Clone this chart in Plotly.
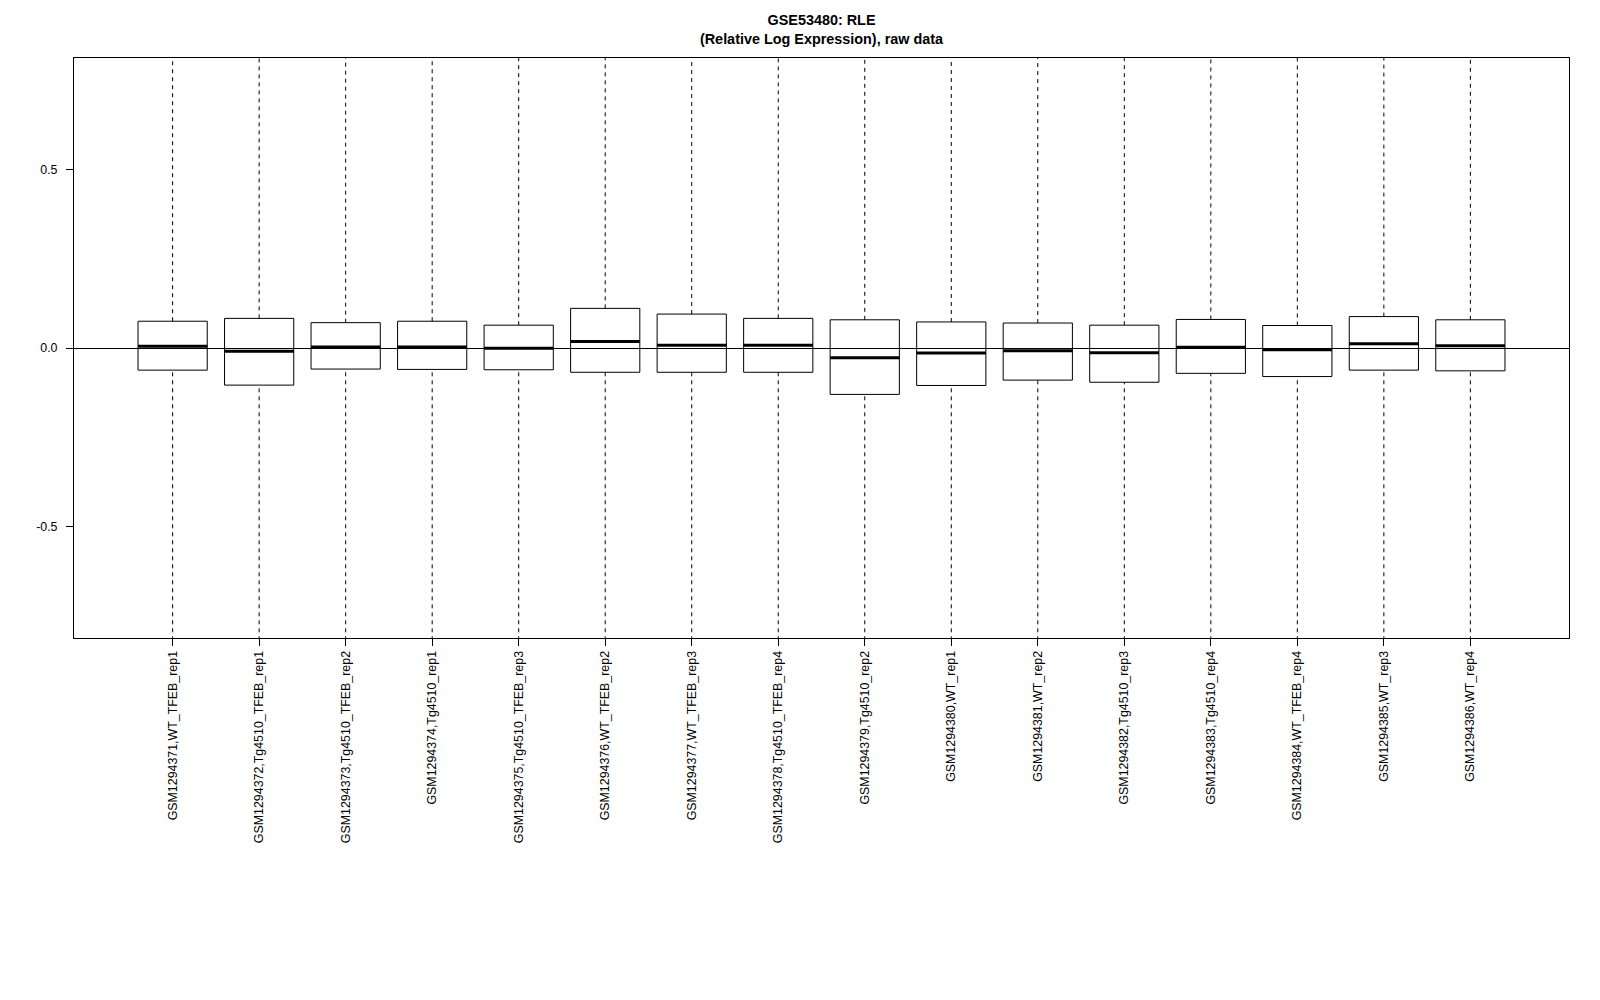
import plotly.graph_objects as go

samples = [
    "GSM1294371,WT_TFEB_rep1",
    "GSM1294372,Tg4510_TFEB_rep1",
    "GSM1294373,Tg4510_TFEB_rep2",
    "GSM1294374,Tg4510_rep1",
    "GSM1294375,Tg4510_TFEB_rep3",
    "GSM1294376,WT_TFEB_rep2",
    "GSM1294377,WT_TFEB_rep3",
    "GSM1294378,Tg4510_TFEB_rep4",
    "GSM1294379,Tg4510_rep2",
    "GSM1294380,WT_rep1",
    "GSM1294381,WT_rep2",
    "GSM1294382,Tg4510_rep3",
    "GSM1294383,Tg4510_rep4",
    "GSM1294384,WT_TFEB_rep4",
    "GSM1294385,WT_rep3",
    "GSM1294386,WT_rep4",
]
q3 = [0.075, 0.083, 0.071, 0.075, 0.064, 0.111, 0.095, 0.083,
      0.079, 0.073, 0.070, 0.064, 0.080, 0.063, 0.088, 0.079]
median = [0.005, -0.009, 0.003, 0.003, -0.001, 0.018, 0.008, 0.008,
          -0.027, -0.014, -0.008, -0.013, 0.002, -0.005, 0.012, 0.006]
q1 = [-0.062, -0.104, -0.059, -0.060, -0.061, -0.068, -0.068, -0.068,
      -0.130, -0.105, -0.090, -0.096, -0.071, -0.080, -0.062, -0.064]
whisker_low = [-1.2] * 16
whisker_high = [1.2] * 16

positions = list(range(1, len(samples) + 1))
half = 0.4

fig = go.Figure()

# dashed whiskers
wx, wy = [], []
for p, lo, a, b, hi in zip(positions, whisker_low, q1, q3, whisker_high):
    wx += [p, p, None, p, p, None]
    wy += [lo, a, None, b, hi, None]
fig.add_trace(go.Scatter(x=wx, y=wy, mode="lines",
                         line=dict(color="black", width=1, dash="4px,4px"),
                         hoverinfo="skip", showlegend=False))

fig.add_trace(go.Box(
    x=positions, q1=q1, median=median, q3=q3,
    lowerfence=q1, upperfence=q3,
    width=0.8, whiskerwidth=0,
    line=dict(color="black", width=1),
    fillcolor="rgba(0,0,0,0)",
    boxpoints=False, showlegend=False,
))

# thick medians
mx, my = [], []
for p, m in zip(positions, median):
    mx += [p - half, p + half, None]
    my += [m, m, None]
fig.add_trace(go.Scatter(x=mx, y=my, mode="lines",
                         line=dict(color="black", width=3),
                         hoverinfo="skip", showlegend=False))

font_family = "Liberation Sans, Arial, sans-serif"

fig.update_layout(
    width=1600, height=1000,
    margin=dict(l=74, r=31, t=58, b=362),
    paper_bgcolor="white", plot_bgcolor="white",
    font=dict(family=font_family, color="black", size=12.4),
    title=dict(
        text="<b>GSE53480: RLE</b><br><b>(Relative Log Expression), raw data</b>",
        x=0.5, xref="paper", xanchor="center",
        y=0.975, yref="container", yanchor="top",
        font=dict(family=font_family, size=14.4, color="black"),
    ),
    showlegend=False,
)
fig.update_xaxes(
    range=[-0.14, 17.14], tickmode="array", tickvals=positions, ticktext=samples,
    tickangle=-90, ticks="outside", ticklen=7, tickcolor="black", tickwidth=1,
    showgrid=False, zeroline=False, showline=True, linecolor="black",
    linewidth=1, mirror=True, ticklabelstandoff=0,
    tickfont=dict(size=12.4, family=font_family),
)
fig.update_yaxes(
    range=[-0.8125, 0.8125], tickvals=[-0.5, 0.0, 0.5],
    ticktext=["-0.5", "0.0", "0.5"],
    ticks="outside", ticklen=7, tickcolor="black", tickwidth=1,
    showgrid=False, zeroline=True, zerolinecolor="black", zerolinewidth=1,
    showline=True, linecolor="black", linewidth=1, mirror=True,
    ticklabelstandoff=6,
    tickfont=dict(size=12.4, family=font_family),
)

fig.write_html("out.html")
